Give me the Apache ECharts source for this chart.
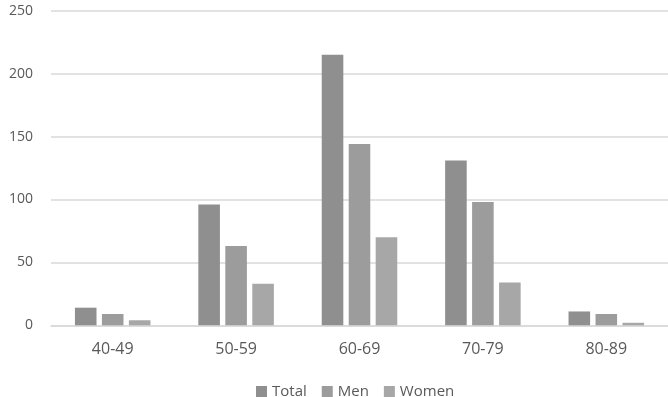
<!DOCTYPE html>
<html>
<head>
<meta charset="utf-8">
<script src="https://cdn.jsdelivr.net/npm/echarts@6/dist/echarts.min.js"></script>
<style>
  html, body { margin: 0; padding: 0; background: #fff; }
  #chart { width: 668px; height: 397px; }
</style>
</head>
<body>
<div id="chart"></div>
<script>
const ageGroups = ['40-49', '50-59', '60-69', '70-79', '80-89']
const totalValues = [14, 96, 215, 131, 11]
const menValues = [9, 63, 144, 98, 9]
const womenValues = [4, 33, 70, 34, 2]
const yTicks = { min: 0, max: 250, interval: 50 }

const textColor = '#595959'
const gridColor = '#d9d9d9'
const font = '"Open Sans", "Liberation Sans", sans-serif'

const chart = echarts.init(document.getElementById('chart'))

const makeSeries = (name, data, color) => ({
  name,
  type: 'bar',
  data,
  barGap: '25%',
  barCategoryGap: '38.8%',
  itemStyle: { color },
  emphasis: { disabled: true },
})

chart.setOption({
  animation: false,
  textStyle: { fontFamily: font },
  grid: { left: 51, top: 10.7, width: 629, height: 314.6 },
  legend: {
    left: 251,
    top: 379,
    icon: 'rect',
    itemWidth: 11,
    itemHeight: 11,
    itemGap: 15,
    textStyle: { color: textColor, fontSize: 15, fontFamily: font },
    data: ['Total', 'Men', 'Women'],
  },
  xAxis: {
    type: 'category',
    data: ageGroups,
    axisLine: { show: true, lineStyle: { color: gridColor, width: 1.5 } },
    axisTick: { show: false },
    axisLabel: { color: textColor, fontSize: 16, margin: 16, fontFamily: font },
  },
  yAxis: {
    type: 'value',
    ...yTicks,
    axisLine: { show: false },
    axisTick: { show: false },
    axisLabel: { color: textColor, fontSize: 14, margin: 18, fontFamily: font },
    splitLine: { lineStyle: { color: gridColor, width: 1.5 } },
  },
  series: [
    makeSeries('Total', totalValues, '#8f8f8f'),
    makeSeries('Men', menValues, '#9c9c9c'),
    makeSeries('Women', womenValues, '#a7a7a7'),
  ],
})
</script>
</body>
</html>
